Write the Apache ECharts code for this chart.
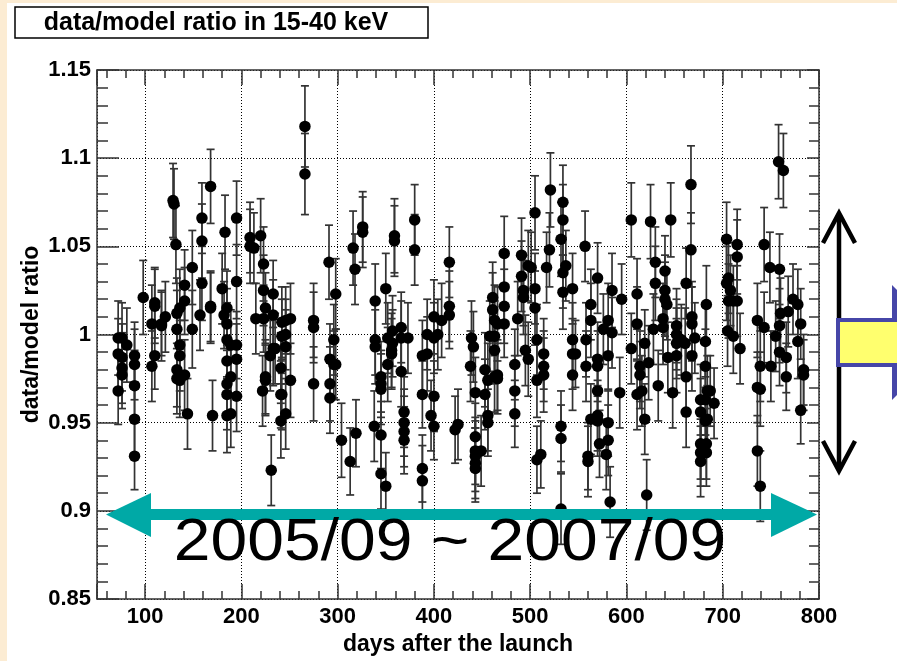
<!DOCTYPE html>
<html>
<head>
<meta charset="utf-8">
<script src="https://cdn.jsdelivr.net/npm/echarts@6/dist/echarts.min.js"></script>
<style>
  html, body { margin: 0; padding: 0; background: #fff; }
  #stage { width: 897px; height: 661px; }
</style>
</head>
<body>
<div id="stage"></div>
<script>
'use strict';

// [day, ratio, error], grouped by time
const days070to170 = [
  [72, 0.998, 0.021], [72, 0.989, 0.020], [72, 0.968, 0.019],
  [76, 0.998, 0.020], [76, 0.987, 0.019], [76, 0.981, 0.020], [76, 0.977, 0.019],
  [81, 0.994, 0.021],
  [89, 0.988, 0.019], [89, 0.983, 0.020], [89, 0.971, 0.020], [89, 0.952, 0.021], [89, 0.931, 0.019],
  [98, 1.021, 0.021],
  [107, 1.006, 0.022], [107, 0.982, 0.020],
  [110, 1.018, 0.020], [110, 1.016, 0.021], [110, 0.988, 0.019],
  [117, 1.006, 0.018], [117, 1.005, 0.020],
  [121, 1.010, 0.020],
  [129, 1.076, 0.021], [130, 1.074, 0.020],
  [132, 1.051, 0.022],
  [133, 1.012, 0.020], [133, 1.003, 0.022], [133, 0.980, 0.021], [133, 0.975, 0.020],
  [136, 1.015, 0.022], [136, 0.994, 0.021], [136, 0.988, 0.020], [136, 0.974, 0.021],
  [141, 1.028, 0.020], [141, 1.019, 0.019], [141, 0.977, 0.020],
  [144, 0.955, 0.020],
  [149, 1.038, 0.021], [149, 1.003, 0.022],
  [157, 1.011, 0.020],
  [159, 1.066, 0.020], [159, 1.053, 0.021], [159, 1.029, 0.021],
  [168, 1.084, 0.021], [168, 1.016, 0.020], [168, 1.015, 0.020],
  [170, 0.954, 0.020]
];

const days180to300 = [
  [180, 1.026, 0.020], [183, 1.058, 0.021], [182, 1.011, 0.019],
  [185, 1.015, 0.021], [185, 1.006, 0.020], [185, 0.997, 0.021], [185, 0.985, 0.020],
  [185, 0.972, 0.019], [185, 0.966, 0.020], [185, 0.954, 0.021],
  [189, 0.994, 0.020], [189, 0.976, 0.020], [189, 0.955, 0.019],
  [195, 1.066, 0.021], [195, 1.030, 0.021], [195, 0.994, 0.019], [195, 0.986, 0.020], [195, 0.965, 0.020],
  [209, 1.055, 0.020], [209, 1.050, 0.021],
  [213, 1.049, 0.020], [215, 1.009, 0.020],
  [220, 1.056, 0.021], [222, 0.968, 0.020],
  [223, 1.040, 0.021], [223, 1.025, 0.020], [223, 1.009, 0.019],
  [225, 1.015, 0.020], [225, 0.976, 0.021], [225, 0.974, 0.020],
  [230, 0.988, 0.020], [231, 0.923, 0.020],
  [233, 1.023, 0.019], [233, 1.011, 0.020], [233, 0.992, 0.021],
  [235, 0.992, 0.020],
  [241, 0.981, 0.020], [241, 0.966, 0.019], [241, 0.951, 0.021],
  [242, 1.007, 0.020], [242, 0.999, 0.021], [242, 0.966, 0.020],
  [246, 1.008, 0.019], [246, 1.000, 0.020], [246, 0.993, 0.021], [246, 0.955, 0.020],
  [251, 1.009, 0.020], [251, 0.974, 0.021],
  [266, 1.118, 0.023], [266, 1.091, 0.023],
  [275, 1.008, 0.021], [275, 1.004, 0.020], [275, 0.972, 0.021],
  [291, 1.041, 0.021],
  [292, 0.986, 0.020], [292, 0.972, 0.021], [292, 0.964, 0.020],
  [296, 0.997, 0.020], [296, 0.983, 0.019],
  [298, 1.023, 0.020], [298, 0.983, 0.020]
];

const days300to425 = [
  [304, 0.940, 0.021], [313, 0.928, 0.019], [316, 1.049, 0.021], [318, 1.037, 0.020],
  [319, 0.944, 0.019], [326, 1.061, 0.020], [326, 1.058, 0.020], [338, 0.948, 0.020],
  [339, 1.019, 0.021], [339, 0.997, 0.020], [339, 0.993, 0.021],
  [345, 0.976, 0.020], [345, 0.972, 0.019], [345, 0.969, 0.020], [345, 0.943, 0.019], [345, 0.921, 0.020],
  [350, 1.026, 0.020], [350, 0.914, 0.019],
  [352, 0.998, 0.020], [352, 0.983, 0.021],
  [356, 0.989, 0.020], [356, 0.991, 0.021],
  [357, 0.995, 0.019], [357, 1.002, 0.020],
  [359, 1.056, 0.021], [359, 1.053, 0.020],
  [366, 1.004, 0.020], [366, 0.998, 0.021], [366, 0.979, 0.020],
  [369, 0.956, 0.020], [369, 0.950, 0.019], [369, 0.945, 0.020], [369, 0.940, 0.019],
  [373, 0.998, 0.020],
  [380, 1.065, 0.020], [380, 1.048, 0.020],
  [388, 0.988, 0.020], [388, 0.966, 0.019], [388, 0.924, 0.019], [388, 0.917, 0.020],
  [393, 1.000, 0.020], [393, 0.989, 0.021],
  [397, 0.954, 0.020],
  [400, 1.010, 0.021], [400, 0.998, 0.020], [400, 0.965, 0.020], [400, 0.948, 0.019],
  [404, 1.000, 0.020], [408, 1.008, 0.021],
  [416, 1.041, 0.020], [416, 1.016, 0.020], [416, 1.011, 0.019],
  [422, 0.946, 0.019], [425, 0.949, 0.020]
];

const days438to547 = [
  [438, 0.982, 0.020], [439, 0.998, 0.021], [441, 0.993, 0.020],
  [443, 0.967, 0.020], [443, 0.942, 0.019], [443, 0.934, 0.019], [443, 0.931, 0.020],
  [443, 0.927, 0.020], [443, 0.924, 0.019],
  [449, 0.934, 0.020],
  [453, 0.980, 0.021], [453, 0.966, 0.020],
  [456, 0.974, 0.021], [456, 0.954, 0.020], [456, 0.950, 0.019],
  [458, 0.999, 0.020],
  [461, 1.021, 0.020], [461, 1.014, 0.021],
  [463, 1.008, 0.020], [463, 0.999, 0.020], [463, 0.991, 0.019], [463, 0.976, 0.020],
  [466, 1.006, 0.021], [466, 0.977, 0.020], [466, 0.975, 0.020],
  [473, 1.046, 0.021], [473, 1.027, 0.020], [473, 1.016, 0.021], [473, 1.006, 0.019],
  [484, 0.983, 0.020], [484, 0.968, 0.020], [484, 0.955, 0.019],
  [487, 1.009, 0.021],
  [491, 1.045, 0.021], [491, 1.033, 0.020],
  [493, 1.025, 0.020], [493, 1.021, 0.021],
  [495, 0.991, 0.020],
  [498, 1.039, 0.020], [498, 0.986, 0.021],
  [501, 1.038, 0.020],
  [505, 1.069, 0.021], [505, 1.026, 0.020], [505, 1.015, 0.021],
  [507, 0.997, 0.020], [507, 0.974, 0.021], [507, 0.929, 0.019],
  [511, 0.932, 0.019],
  [514, 0.989, 0.020], [514, 0.982, 0.020], [514, 0.977, 0.021],
  [517, 1.038, 0.020], [520, 1.048, 0.021], [521, 1.082, 0.021],
  [532, 0.948, 0.020], [532, 0.941, 0.019], [532, 0.901, 0.020], [532, 1.054, 0.021],
  [534, 1.075, 0.021], [534, 1.065, 0.020], [534, 1.035, 0.020], [534, 1.024, 0.021],
  [537, 1.039, 0.020],
  [544, 1.026, 0.020], [544, 0.997, 0.021], [544, 0.989, 0.020], [544, 0.977, 0.020],
  [547, 0.989, 0.019]
];

const days556to671 = [
  [557, 1.050, 0.020],
  [558, 0.997, 0.021], [558, 0.982, 0.020],
  [560, 0.931, 0.019], [560, 0.928, 0.020],
  [563, 1.017, 0.020], [563, 1.008, 0.021], [563, 0.952, 0.020],
  [570, 1.032, 0.020], [570, 0.986, 0.021], [570, 0.982, 0.020], [570, 0.968, 0.019],
  [570, 0.954, 0.020], [570, 0.951, 0.020],
  [572, 0.938, 0.019], [576, 1.003, 0.020], [579, 0.932, 0.020],
  [581, 1.008, 0.021], [581, 0.988, 0.020], [581, 0.950, 0.019], [581, 0.940, 0.020],
  [583, 0.905, 0.020],
  [585, 1.025, 0.021], [585, 1.001, 0.020],
  [593, 0.967, 0.020], [595, 1.020, 0.020],
  [605, 1.065, 0.021], [605, 0.992, 0.020],
  [611, 1.023, 0.020], [611, 1.006, 0.021], [611, 0.966, 0.020],
  [614, 0.982, 0.020], [614, 0.977, 0.019],
  [616, 0.968, 0.020],
  [619, 0.995, 0.019], [619, 0.952, 0.020],
  [621, 0.909, 0.020], [623, 0.984, 0.021], [625, 1.064, 0.021], [628, 1.003, 0.020],
  [630, 1.041, 0.020], [630, 1.029, 0.021],
  [633, 0.971, 0.020],
  [638, 1.009, 0.020], [638, 1.004, 0.021],
  [640, 1.036, 0.020], [640, 1.025, 0.020], [640, 1.020, 0.021],
  [642, 1.017, 0.020], [643, 0.987, 0.020], [646, 1.065, 0.021], [648, 0.967, 0.020],
  [652, 1.005, 0.021], [652, 1.000, 0.020], [652, 0.995, 0.020], [652, 0.988, 0.021],
  [657, 0.997, 0.020], [661, 0.995, 0.020],
  [662, 1.029, 0.020], [662, 0.976, 0.021], [662, 0.956, 0.020],
  [667, 1.085, 0.022], [667, 1.048, 0.021],
  [668, 1.010, 0.020], [668, 1.006, 0.021], [668, 0.988, 0.020],
  [671, 0.998, 0.020]
];

const days677to785 = [
  [677, 0.963, 0.020], [677, 0.956, 0.019], [677, 0.938, 0.020], [677, 0.933, 0.019], [677, 0.928, 0.020],
  [682, 0.996, 0.020], [682, 0.982, 0.021], [682, 0.963, 0.020], [682, 0.951, 0.019],
  [683, 1.017, 0.022], [683, 0.938, 0.020], [683, 0.933, 0.019],
  [684, 0.968, 0.020], [684, 0.952, 0.019],
  [687, 0.968, 0.020], [691, 0.961, 0.020],
  [704, 1.054, 0.021], [704, 1.029, 0.021],
  [705, 1.002, 0.020],
  [706, 1.032, 0.020], [706, 1.019, 0.021],
  [708, 1.025, 0.020],
  [711, 1.019, 0.020], [711, 0.999, 0.021],
  [715, 1.051, 0.020], [715, 1.044, 0.021], [715, 1.019, 0.020],
  [718, 0.992, 0.020],
  [736, 1.008, 0.021], [736, 0.970, 0.020], [736, 0.934, 0.020],
  [739, 0.982, 0.020], [739, 0.969, 0.021], [739, 0.914, 0.020],
  [743, 1.051, 0.021], [743, 1.004, 0.020],
  [749, 1.038, 0.020], [750, 0.982, 0.020], [755, 0.999, 0.020],
  [758, 1.098, 0.021],
  [759, 1.037, 0.020], [759, 1.005, 0.021], [759, 0.990, 0.019],
  [760, 1.012, 0.020], [763, 1.093, 0.021],
  [766, 0.987, 0.020], [766, 0.976, 0.019],
  [768, 1.013, 0.020], [773, 1.020, 0.020],
  [778, 1.017, 0.020], [778, 0.996, 0.021],
  [781, 1.006, 0.020], [781, 0.957, 0.019],
  [784, 0.980, 0.020], [784, 0.977, 0.020]
];

const points = [].concat(days070to170, days180to300, days300to425,
  days438to547, days556to671, days677to785);

const FONT = '"Liberation Sans", Arial, Helvetica, sans-serif';
const TEAL = '#00a9a6';

const myChart = echarts.init(document.getElementById('stage'), null, { renderer: 'canvas' });

// error bars with small caps, the way ROOT draws them
function renderErrorBar(params, api) {
  const x = api.value(0);
  const y = api.value(1);
  const e = api.value(2);
  const top = api.coord([x, y + e]);
  const bot = api.coord([x, y - e]);
  const cap = 4;
  const style = { stroke: '#333', lineWidth: 1.7 };
  return {
    type: 'group',
    children: [
      { type: 'line', shape: { x1: top[0], y1: top[1], x2: bot[0], y2: bot[1] }, style: style },
      { type: 'line', shape: { x1: top[0] - cap, y1: top[1], x2: top[0] + cap, y2: top[1] }, style: style },
      { type: 'line', shape: { x1: bot[0] - cap, y1: bot[1], x2: bot[0] + cap, y2: bot[1] }, style: style }
    ]
  };
}

const nameStyle = { color: '#000', fontFamily: FONT, fontWeight: 'bold', fontSize: 23 };

const option = {
  backgroundColor: '#fff',
  animation: false,
  grid: { left: 97, right: 78, top: 70, bottom: 62 },
  xAxis: [
    {
      type: 'value', position: 'bottom', min: 50, max: 800, splitNumber: 7,
      name: 'days after the launch', nameLocation: 'middle', nameGap: 32,
      nameTextStyle: nameStyle,
      axisLine: { lineStyle: { color: '#333', width: 1.5 } },
      axisTick: { inside: true, length: 15, lineStyle: { color: '#333', width: 1.5 } },
      minorTick: { show: true, splitNumber: 5, length: 8, lineStyle: { color: '#333', width: 1.5 } },
      axisLabel: {
        margin: 7, color: '#000', fontFamily: FONT, fontWeight: 'bold', fontSize: 22,
        formatter: function (v) { return v % 100 === 0 ? String(v) : ''; }
      },
      splitLine: { show: true, lineStyle: { color: '#000', type: [1, 2], width: 1 } }
    },
    {
      type: 'value', position: 'top', min: 50, max: 800, splitNumber: 7,
      axisLine: { lineStyle: { color: '#333', width: 1.5 } },
      axisTick: { inside: true, length: 15, lineStyle: { color: '#333', width: 1.5 } },
      minorTick: { show: true, splitNumber: 5, length: 8, lineStyle: { color: '#333', width: 1.5 } },
      axisLabel: { show: false },
      splitLine: { show: false }
    }
  ],
  yAxis: [
    {
      type: 'value', position: 'left', min: 0.85, max: 1.15, interval: 0.05,
      name: 'data/model ratio', nameLocation: 'middle', nameGap: 54, nameMoveOverlap: false,
      nameTextStyle: nameStyle,
      axisLine: { lineStyle: { color: '#333', width: 1.5 } },
      axisTick: { inside: true, length: 22, lineStyle: { color: '#333', width: 1.5 } },
      minorTick: { show: true, splitNumber: 5, length: 11, lineStyle: { color: '#333', width: 1.5 } },
      axisLabel: { margin: 6, color: '#000', fontFamily: FONT, fontWeight: 'bold', fontSize: 22 },
      splitLine: { show: true, lineStyle: { color: '#000', type: [1, 2], width: 1 } }
    },
    {
      type: 'value', position: 'right', min: 0.85, max: 1.15, interval: 0.05,
      axisLine: { lineStyle: { color: '#333', width: 1.5 } },
      axisTick: { inside: true, length: 12, lineStyle: { color: '#333', width: 1.5 } },
      minorTick: { show: true, splitNumber: 5, length: 10, lineStyle: { color: '#333', width: 1.5 } },
      axisLabel: { show: false },
      splitLine: { show: false }
    }
  ],
  series: [
    {
      type: 'custom',
      xAxisIndex: 0, yAxisIndex: 0,
      renderItem: renderErrorBar,
      encode: { x: 0, y: 1 },
      data: points,
      z: 2
    },
    {
      type: 'scatter',
      xAxisIndex: 0, yAxisIndex: 0,
      symbol: 'circle', symbolSize: 11.5,
      itemStyle: { color: '#000', opacity: 1 },
      data: points.map(function (p) { return [p[0], p[1]]; }),
      z: 3
    }
  ],
  graphic: [
    // slide background peeking out at the top and left edge
    { type: 'rect', z: 100, shape: { x: 0, y: 0, width: 897, height: 3 }, style: { fill: '#fcecd3' } },
    { type: 'rect', z: 100, shape: { x: 0, y: 0, width: 7, height: 661 }, style: { fill: '#fcecd3' } },
    // title box
    { type: 'rect', z: 100, shape: { x: 15, y: 7, width: 413, height: 31 },
      style: { fill: '#fff', stroke: '#000', lineWidth: 1.5 } },
    { type: 'text', z: 101, x: 216, y: 23,
      style: { text: 'data/model ratio in 15-40 keV', fill: '#000', font: 'bold 25px ' + FONT,
        textAlign: 'center', textVerticalAlign: 'middle' } },
    // teal double arrow
    { type: 'rect', z: 100, shape: { x: 148, y: 509, width: 626, height: 11 }, style: { fill: TEAL } },
    { type: 'polygon', z: 100, shape: { points: [[106, 514.5], [151, 493], [151, 537]] }, style: { fill: TEAL } },
    { type: 'polygon', z: 100, shape: { points: [[817, 514.5], [771, 493], [771, 537]] }, style: { fill: TEAL } },
    { type: 'text', z: 101, x: 450, y: 543, scaleX: 1.1,
      style: { text: '2005/09 ~ 2007/09', fill: '#000', font: '60px ' + FONT,
        textAlign: 'center', textVerticalAlign: 'middle' } },
    // black vertical double arrow
    { type: 'line', z: 100, shape: { x1: 839, y1: 214, x2: 839, y2: 470 },
      style: { stroke: '#000', lineWidth: 4.5 } },
    { type: 'polyline', z: 100, shape: { points: [[823, 243], [839, 213], [855, 243]] },
      style: { stroke: '#000', lineWidth: 4.5, fill: null } },
    { type: 'polyline', z: 100, shape: { points: [[823, 441], [839, 471], [855, 441]] },
      style: { stroke: '#000', lineWidth: 4.5, fill: null } },
    // yellow block arrow, cut by the right edge
    { type: 'polygon', z: 100, shape: { points: [[892, 285], [892, 400], [950, 342]] },
      style: { fill: '#4646a8' } },
    { type: 'rect', z: 101, shape: { x: 838, y: 320, width: 70, height: 45 },
      style: { fill: '#ffff6e', stroke: '#4646a8', lineWidth: 4 } }
  ]
};

myChart.setOption(option);
</script>
</body>
</html>
